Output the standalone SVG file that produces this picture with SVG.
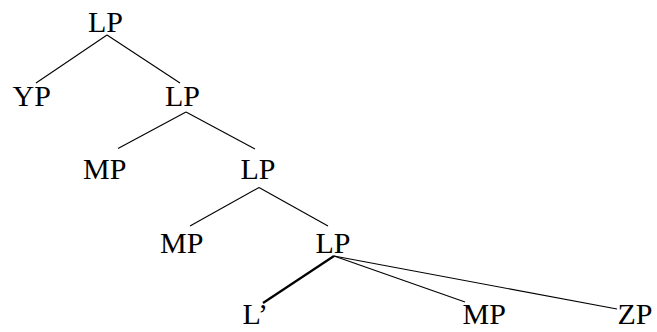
<svg xmlns="http://www.w3.org/2000/svg" width="657" height="332" viewBox="0 0 657 332">
<style>
text{font-family:"Liberation Serif","Times New Roman",serif;font-size:30px;fill:#000}
line{stroke:#000;stroke-width:1.1}
.thick{stroke-width:2.2}
</style>
<rect width="657" height="332" fill="#fff"/>
<g id="connectors">
<line x1="107" y1="35" x2="36" y2="83"/>
<line x1="107" y1="35" x2="180" y2="83"/>
<line x1="186" y1="112" x2="118" y2="148.5"/>
<line x1="186" y1="112" x2="255" y2="149"/>
<line x1="259" y1="187.5" x2="190" y2="226"/>
<line x1="259" y1="187.5" x2="328" y2="226"/>
<line class="thick" x1="334" y1="256" x2="263" y2="303"/>
<line x1="334" y1="256" x2="465" y2="302"/>
<line x1="334" y1="256" x2="617" y2="309"/>
</g>
<g id="n1"><text x="88" y="32">LP</text></g>
<g id="n2"><text x="12.5" y="106">YP</text></g>
<g id="n3"><text x="165" y="106">LP</text></g>
<g id="n4"><text x="83" y="179">MP</text></g>
<g id="n5"><text x="240.5" y="179">LP</text></g>
<g id="n6"><text x="160" y="253">MP</text></g>
<g id="n7"><text x="315.5" y="253">LP</text></g>
<g id="n8"><text x="242.5" y="324">L’</text></g>
<g id="n9"><text x="462.5" y="324">MP</text></g>
<g id="n10"><text x="617.5" y="324">ZP</text></g>
</svg>
